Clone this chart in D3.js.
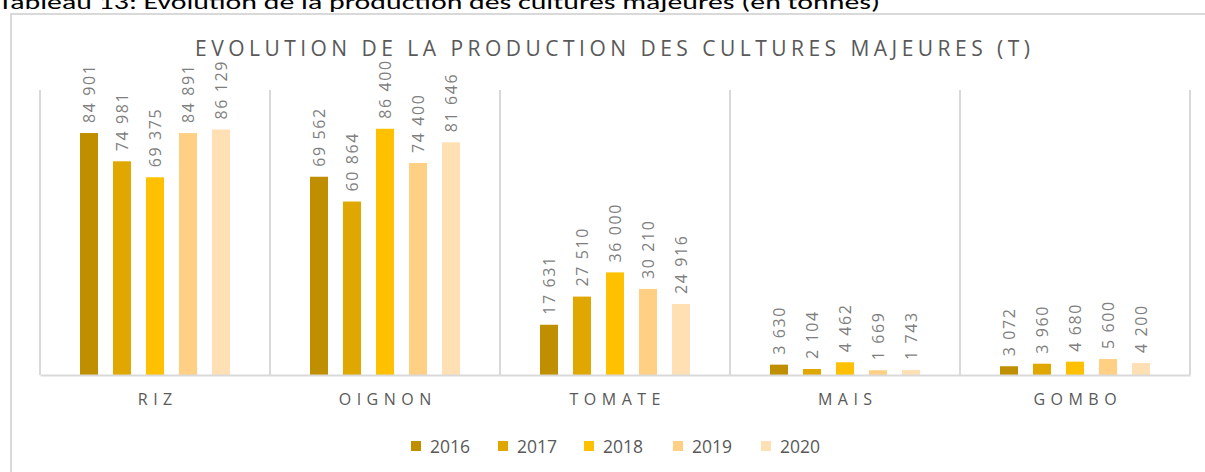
<!DOCTYPE html>
<html>
<head>
<meta charset="utf-8">
<script src="https://cdn.jsdelivr.net/npm/d3@7"></script>
<style>
  html, body { margin: 0; padding: 0; background: #fff; }
  svg { display: block; font-family: "Open Sans", "Liberation Sans", sans-serif; }
</style>
</head>
<body>
<svg id="chart" width="1205" height="472"></svg>
<script>
// --- Data ---
const categories = ["RIZ", "OIGNON", "TOMATE", "MAIS", "GOMBO"];
const years = ["2016", "2017", "2018", "2019", "2020"];
const values2016 = [84901, 69562, 17631, 3630, 3072];
const values2017 = [74981, 60864, 27510, 2104, 3960];
const values2018 = [69375, 86400, 36000, 4462, 4680];
const values2019 = [84891, 74400, 30210, 1669, 5600];
const values2020 = [86129, 81646, 24916, 1743, 4200];
const yearColors = ["#BF8F00", "#DFA700", "#FFC000", "#FFD083", "#FFE0B5"];

const series = [values2016, values2017, values2018, values2019, values2020];
const data = categories.map((c, i) => ({
  cat: c,
  vals: years.map((y, j) => ({ year: y, value: series[j][i] }))
}));

// --- Layout ---
const svg = d3.select("#chart");
const plot = { left: 40, right: 1190, top: 90, bottom: 375 };

const x0 = d3.scaleBand().domain(categories).range([plot.left, plot.right]).padding(0);
const groupW = 165;
const x1 = d3.scaleBand().domain(years)
  .range([(x0.bandwidth() - groupW) / 2, (x0.bandwidth() + groupW) / 2])
  .paddingInner(0.4545).paddingOuter(0.227);
const y = d3.scaleLinear().domain([0, 100000]).range([plot.bottom, plot.top]);
const color = d3.scaleOrdinal().domain(years).range(yearColors);
const fmt = d3.formatLocale({ decimal: ",", thousands: "\u00a0", grouping: [3], currency: ["", ""] }).format(",d");

// caption (cut at top, as in the source page)
svg.append("text")
  .attr("x", -2).attr("y", 9)
  .attr("font-size", 20).attr("fill", "#000")
  .attr("textLength", 882).attr("lengthAdjust", "spacingAndGlyphs")
  .style("font-family", "Carlito, 'Liberation Sans', sans-serif")
  .text("Tableau 13: Evolution de la production des cultures majeures (en tonnes)");

// chart frame
svg.append("path")
  .attr("d", "M11,472 V14 H1205")
  .attr("fill", "none").attr("stroke", "#d9d9d9").attr("stroke-width", 2);

// title
svg.append("text")
  .attr("x", 195).attr("y", 56)
  .attr("font-size", 21).attr("fill", "#595959")
  .attr("textLength", 835).attr("lengthAdjust", "spacing")
  .text("EVOLUTION DE LA PRODUCTION DES CULTURES MAJEURES (T)");

// category dividers
const edges = categories.map(c => x0(c)).concat([plot.right]);
svg.append("g").selectAll("line").data(edges).join("line")
  .attr("x1", d => d).attr("x2", d => d)
  .attr("y1", plot.top).attr("y2", plot.bottom)
  .attr("stroke", "#d9d9d9").attr("stroke-width", 2);

// bars
const groups = svg.append("g").selectAll("g").data(data).join("g")
  .attr("transform", d => `translate(${x0(d.cat)},0)`);

groups.selectAll("rect").data(d => d.vals).join("rect")
  .attr("x", d => x1(d.year))
  .attr("y", d => y(d.value))
  .attr("width", x1.bandwidth())
  .attr("height", d => y(0) - y(d.value))
  .attr("fill", d => color(d.year));

groups.selectAll("text").data(d => d.vals).join("text")
  .attr("transform", d => `translate(${x1(d.year) + x1.bandwidth() / 2 + 6},${y(d.value) - 10}) rotate(-90)`)
  .attr("font-size", 16).attr("fill", "#7f7f7f")
  .attr("letter-spacing", 1.6)
  .text(d => fmt(d.value));

// x axis
const ls = 5.5;
const xAxis = svg.append("g")
  .attr("transform", `translate(0,${plot.bottom})`)
  .call(d3.axisBottom(x0).tickSize(0).tickPadding(19));
xAxis.select(".domain").attr("stroke", "#d9d9d9").attr("stroke-width", 2);
xAxis.selectAll("text")
  .attr("font-size", 16).attr("fill", "#595959")
  .attr("letter-spacing", ls).attr("dx", ls / 2)
  .style("font-family", "'Open Sans', sans-serif");

// legend
const legendX = [411, 498, 584, 673, 761];
const legend = svg.append("g").selectAll("g").data(years).join("g")
  .attr("transform", (d, i) => `translate(${legendX[i]},446)`);
legend.append("rect")
  .attr("x", 0).attr("y", -5).attr("width", 10).attr("height", 10)
  .attr("fill", d => color(d));
legend.append("text")
  .attr("x", 19).attr("y", 6.5)
  .attr("font-size", 17.5).attr("fill", "#595959")
  .text(d => d);
</script>
</body>
</html>
